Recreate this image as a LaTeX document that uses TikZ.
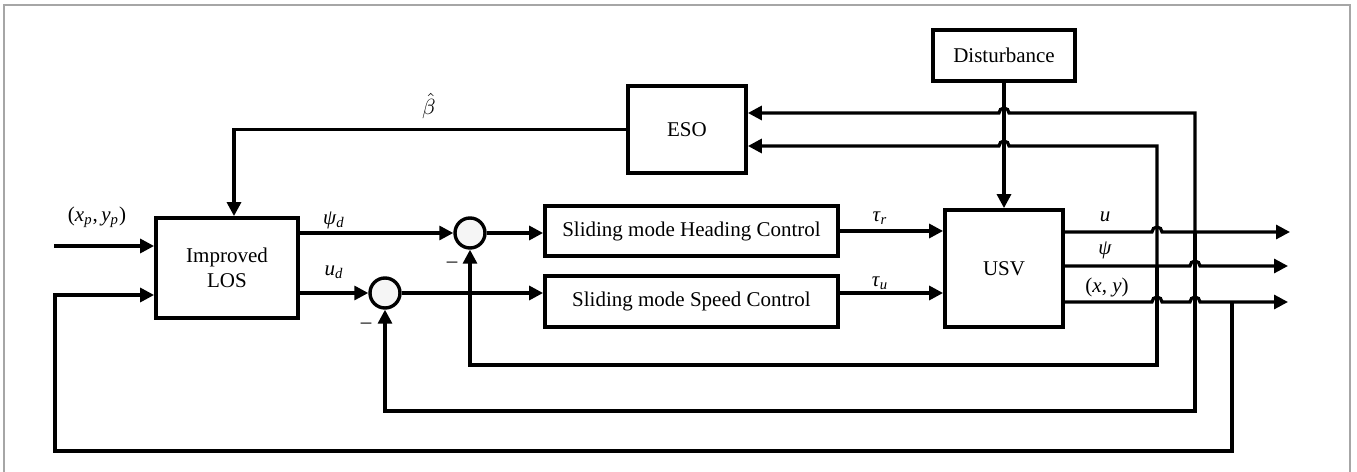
\documentclass[tikz,border=0pt]{standalone}
\usepackage{fontspec}
\setmainfont{Liberation Serif}
\usetikzlibrary{arrows.meta, calc}

\begin{document}
\begin{tikzpicture}[
    x=0.5pt, y=0.5pt,
    >={Triangle[length=7pt,width=7pt]},
    every node/.style={font=\fontsize{10.5}{12.5}\selectfont},
    block/.style={draw, line width=1.9pt, align=center, inner sep=0pt},
    sumnode/.style={draw, circle, line width=1.7pt, fill=gray!8,
                    minimum size=15pt, inner sep=0pt},
    sig/.style={->, line width=1.6pt},
]
\useasboundingbox (0,0) rectangle (1357,472);
% thin outer frame, open at the bottom edge
\draw[gray!70, line width=0.6pt] (4,-5) -- (4,467) -- (1350,467) -- (1350,-5);

% blocks
\node[block, minimum width=71pt, minimum height=50pt] (los) at (227,204) {Improved\\LOS};
\node[block, minimum width=59pt, minimum height=43.5pt] (eso) at (687,342.5) {ESO};
\node[block, minimum width=71pt, minimum height=25.5pt] (dist) at (1004,416.5) {Disturbance};
\node[block, minimum width=146.5pt, minimum height=25pt] (hdg) at (691.5,241) {Sliding mode Heading Control};
\node[block, minimum width=146.5pt, minimum height=25.5pt] (spd) at (691.5,170.5) {Sliding mode Speed Control};
\node[block, minimum width=59pt, minimum height=58.5pt] (usv) at (1004,203.5) {USV};
\node[sumnode] (s1) at (470,239) {};
\node[sumnode] (s2) at (385,179) {};

% fixed points: inputs, ESO inputs, outputs, feedback buses
\coordinate (in1) at (54,226);
\coordinate (in2) at (55,177);
\coordinate (e1) at ($(eso.east)+(0,16.5)$);
\coordinate (e2) at ($(eso.east)+(0,-16.5)$);
\coordinate (ou) at (1290,240);
\coordinate (opsi) at (1288,206);
\coordinate (oxy) at (1288,170);
\coordinate (ju) at (1195,240);
\coordinate (jpsi) at (1157,206);
\coordinate (jxy) at (1232,170);
\coordinate (bA) at (1157,107);
\coordinate (bB) at (1195,61);
\coordinate (bC) at (1232,21);

% forward path
\draw[sig] (in1) -- (in1 -| los.west);
\draw[sig] (los.east |- s1) -- (s1.west);
\draw[sig] (los.east |- s2) -- (s2.west);
\draw[sig] (s1.east) -- (s1.east -| hdg.west);
\draw[sig] (s2.east) -- (s2.east -| spd.west);
\draw[sig] (hdg.east) -- (hdg.east -| usv.west);
\draw[sig] (spd.east |- s2) -- (s2 -| usv.west);
\draw[sig] (dist.south) -- (usv.north);
\draw[sig] (eso.west) -| ($(los.north)+(7,0)$);

% outputs, hopping over the buses they do not join
\draw[sig] (usv.east |- ou) -- ($(jpsi |- ou)+(-5,0)$)
    arc[start angle=180, end angle=0, radius=5] -- (ou);
\draw[sig] (usv.east |- opsi) -- ($(ju |- opsi)+(-5,0)$)
    arc[start angle=180, end angle=0, radius=5] -- (opsi);
\draw[sig] (usv.east |- oxy) -- ($(jpsi |- oxy)+(-5,0)$)
    arc[start angle=180, end angle=0, radius=5] -- ($(ju |- oxy)+(-5,0)$)
    arc[start angle=180, end angle=0, radius=5] -- (oxy);

% u and psi back to the ESO (hop over the disturbance line)
\draw[sig] (ju) -- (ju |- e1) -- ($(dist.south |- e1)+(5,0)$)
    arc[start angle=0, end angle=180, radius=5] -- (e1);
\draw[sig] (jpsi) -- (jpsi |- e2) -- ($(dist.south |- e2)+(5,0)$)
    arc[start angle=0, end angle=180, radius=5] -- (e2);

% feedback loops to the summing points and to the LOS
\draw[sig] (jpsi) -- (bA) -| (s1.south);
\draw[sig] (ju) -- (bB) -| (s2.south);
\draw[sig] (jxy) -- (bC) -| (in2) -- (in2 -| los.west);

% labels
\node at (429,366) {$\hat{\beta}$};
\node at (97,255) {(\textit{x}\textsubscript{\textit{p}},\,\textit{y}\textsubscript{\textit{p}})};
\node at (334,252) {\textit{ψ}\textsubscript{\textit{d}}};
\node at (334,200) {\textit{u}\textsubscript{\textit{d}}};
\node at (880,254) {\textit{τ}\textsubscript{\textit{r}}};
\node at (880,189) {\textit{τ}\textsubscript{\textit{u}}};
\node at (1105,255) {\textit{u}};
\node at (1105,222) {\textit{ψ}};
\node at (1107,185) {(\textit{x}, \textit{y})};
\node at (452,207) {–};
\node at (366,146) {–};
\end{tikzpicture}
\end{document}
